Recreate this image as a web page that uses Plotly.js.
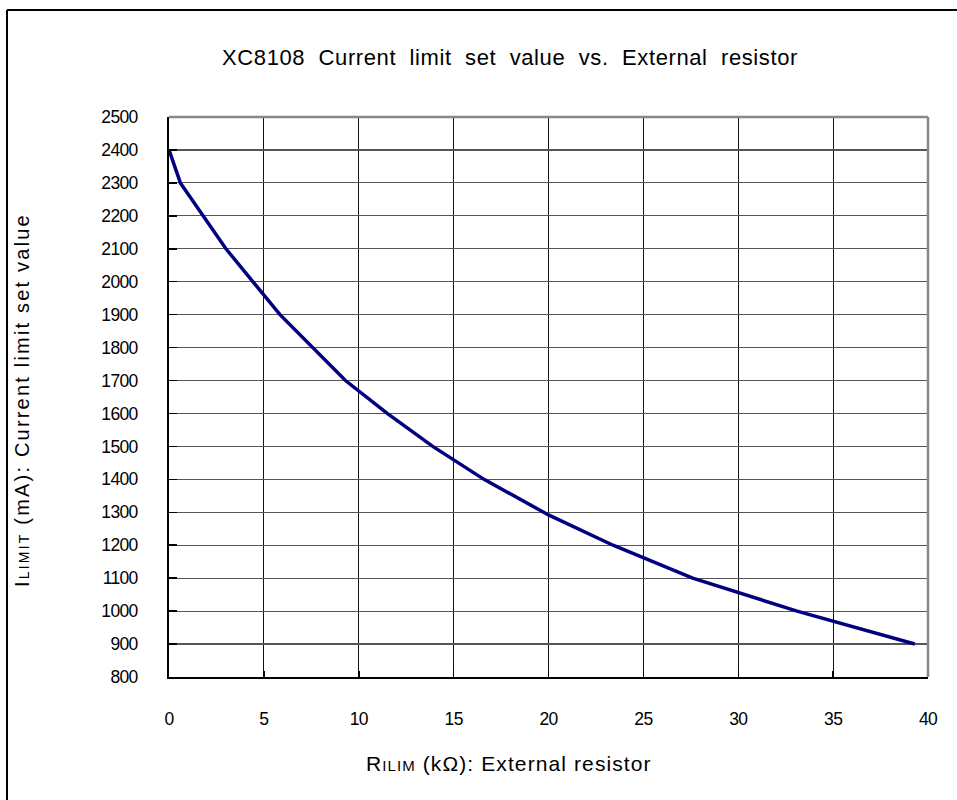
<!DOCTYPE html>
<html>
<head>
<meta charset="utf-8">
<script src="https://cdn.plot.ly/plotly-3.0.1.min.js"></script>
<style>html,body{margin:0;padding:0;background:#fff;}#chart{width:957px;height:800px;}</style>
</head>
<body>
<div id="chart"></div>
<script>
// Data
const resistorK = [0, 0.6, 3.0, 5.85, 9.3, 11.5, 13.9, 16.6, 20.0, 23.4, 27.6, 33.1, 39.3];
const currentMA = [2400, 2300, 2100, 1900, 1700, 1600, 1500, 1400, 1292, 1200, 1100, 1000, 900];
const xTicks = [0, 5, 10, 15, 20, 25, 30, 35, 40];
const yTicks = [800, 900, 1000, 1100, 1200, 1300, 1400, 1500, 1600, 1700, 1800, 1900, 2000, 2100, 2200, 2300, 2400, 2500];
const chartTitle = "XC8108  Current  limit  set  value  vs.  External  resistor";
const xTitleMain = "R", xTitleSub = "ILIM", xTitleRest = " (kΩ): External resistor";
const yTitleMain = "I", yTitleSub = "LIMIT", yTitleRest = " (mA): Current limit set value";

const W = 957, H = 800;
const L = 169, R = 29, T = 117, B = 123;
const pw = W - L - R, ph = H - T - B;
const px = v => (v - L) / pw;
const py = v => (H - B - v) / ph;
const FONT = "Liberation Sans, Arial, sans-serif";

function spaced(main, sub, rest, ls, subSize) {
  return '<span style="letter-spacing:' + ls + 'px">' + main + '</span>' +
         '<span style="letter-spacing:' + ls + 'px;font-size:' + subSize + 'px">' + sub + '</span>' +
         '<span style="letter-spacing:' + ls + 'px">' + rest + '</span>';
}
const tightTick = v => '<span style="letter-spacing:-0.7px">' + v + '</span>';

const trace = {
  x: resistorK, y: currentMA, type: 'scatter', mode: 'lines',
  line: {color: '#000080', width: 3.5}, hoverinfo: 'skip', cliponaxis: false
};

const layout = {
  width: W, height: H,
  margin: {l: L, r: R, t: T, b: B, pad: 0},
  paper_bgcolor: '#ffffff', plot_bgcolor: '#ffffff',
  showlegend: false,
  font: {family: FONT, color: '#000000', size: 17},
  title: {text: '<span style="letter-spacing:0.6px">' + chartTitle.replace(/  /g, ' \u00a0') + '</span>',
          font: {family: FONT, size: 22, color: '#000'},
          xref: 'container', yref: 'container', x: 510 / W, y: 1 - 57 / H, xanchor: 'center', yanchor: 'middle'},
  xaxis: {
    range: [0, 40], tickvals: xTicks, ticktext: xTicks.map(tightTick),
    showgrid: true, gridcolor: '#111111', gridwidth: 1,
    showline: true, linecolor: '#000', linewidth: 2,
    ticks: 'inside', ticklen: 6, tickcolor: '#000', tickwidth: 1.5,
    ticklabelstandoff: 25, zeroline: false, fixedrange: true,
    tickfont: {family: FONT, size: 17.5, color: '#000'}
  },
  yaxis: {
    range: [800, 2500], tickvals: yTicks, ticktext: yTicks.map(tightTick),
    showgrid: true, gridcolor: '#555555', gridwidth: 1.2,
    showline: true, linecolor: '#000', linewidth: 2,
    ticks: 'inside', ticklen: 8, tickcolor: '#000', tickwidth: 1.5,
    ticklabelstandoff: 26, zeroline: false, fixedrange: true,
    tickfont: {family: FONT, size: 17.5, color: '#000'}
  },
  annotations: [
    {text: spaced(xTitleMain, xTitleSub, xTitleRest, 1.1, 15), xref: 'paper', yref: 'paper', x: px(509), y: py(763),
     xanchor: 'center', yanchor: 'middle', showarrow: false, font: {family: FONT, size: 21, color: '#000'}},
    {text: spaced(yTitleMain, yTitleSub, yTitleRest, 2.2, 14), xref: 'paper', yref: 'paper', x: px(22), y: py(400), textangle: -90,
     xanchor: 'center', yanchor: 'middle', showarrow: false, font: {family: FONT, size: 20, color: '#000'}}
  ],
  shapes: [
    // top and right plot borders (grey)
    {type: 'line', xref: 'paper', yref: 'paper', x0: 0, x1: 1, y0: 1, y1: 1, line: {color: '#888888', width: 2.5}},
    {type: 'line', xref: 'paper', yref: 'paper', x0: 1, x1: 1, y0: 0, y1: 1, line: {color: '#888888', width: 2.5}},
    // outer frame (left and top)
    {type: 'line', xref: 'paper', yref: 'paper', x0: px(7), x1: px(7), y0: py(810), y1: py(10), line: {color: '#000', width: 2}},
    {type: 'line', xref: 'paper', yref: 'paper', x0: px(7), x1: px(970), y0: py(10), y1: py(10), line: {color: '#000', width: 2}}
  ]
};

Plotly.newPlot('chart', [trace], layout, {staticPlot: true, displayModeBar: false});
</script>
</body>
</html>
